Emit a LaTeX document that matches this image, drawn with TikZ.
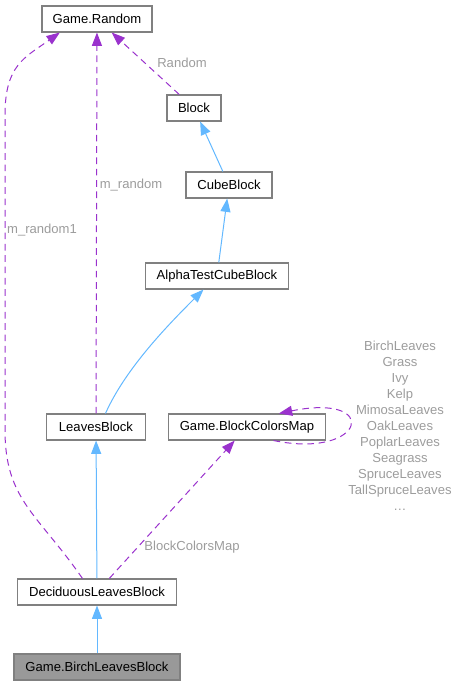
\documentclass[tikz,border=0pt]{standalone}
\usepackage{fontspec}
\setmainfont{Liberation Sans}
\usetikzlibrary{arrows.meta}
\definecolor{edgeblue}{HTML}{63B8FF}
\definecolor{edgepurple}{HTML}{9A32CD}
\definecolor{boxgray}{HTML}{808080}
\definecolor{labelgray}{HTML}{9C9C9C}
\tikzset{
    x=0.75pt,
    y=-0.75pt,
    font=\fontsize{9.8}{12}\selectfont,
    class/.style = {
        draw=boxgray,
        fill=white,
        shape=rectangle,
        minimum height=19.5pt,
        inner xsep=2pt,
        line width=0.8pt
    },
    current/.style = {
        class,
        fill=black!40
    },
    inherit/.style = {
        draw=edgeblue,
        line width=0.75pt,
        -{Triangle[length=10pt,width=7.5pt]}
    },
    usage/.style = {
        draw=edgepurple,
        line width=0.75pt,
        dash pattern=on 5pt off 3.5pt,
        -{Triangle[length=10pt,width=7.5pt]}
    },
    edgelabel/.style = {
        text=labelgray,
        inner sep=0pt
    },
}
\begin{document}
\begin{tikzpicture}
                \useasboundingbox (0,0) rectangle (459,687);

                \node[class, minimum width=82.5pt] (random) at (97,19) {Game.Random};
                \node[class, minimum width=40.5pt] (block) at (194,108) {Block};
                \node[class, minimum width=64.5pt] (cube) at (229,185) {CubeBlock};
                \node[class, minimum width=107.25pt] (alpha) at (217,276) {AlphaTestCubeBlock};
                \node[class, minimum width=74.25pt] (leaves) at (96,427) {LeavesBlock};
                \node[class, minimum width=117.75pt] (colors) at (247,427) {Game.BlockColorsMap};
                \node[class, minimum width=119.25pt] (decid) at (97,592) {DeciduousLeavesBlock};
                \node[current, minimum width=124.5pt] (birch) at (97,667) {Game.BirchLeavesBlock};

                % inheritance
                \path[inherit] (cube) -- (block);
                \path[inherit] (alpha) -- (cube);
                \path[inherit] (leaves.55) .. controls +(20,-45) and +(-35,35) .. (alpha.-135);
                \path[inherit] (decid) -- (leaves);
                \path[inherit] (birch) -- (decid);

                % usage
                \path[usage] (block) -- (random);
                \path[usage] (leaves) -- (random);
                \path[usage] (decid.137) .. controls +(-45,-65) and +(0,70) .. (5,430)
                    -- (5,115) .. controls +(0,-50) and +(-35,25) .. (random.-160);
                \path[usage] (decid) -- (colors);
                \path[usage] (colors.-27) .. controls +(92,19) and +(103,-21) .. (colors.23);

                \node[edgelabel] (lrandom) at (182,63) {Random};
                \node[edgelabel] (lmrandom) at (131,185) {m\_random};
                \node[edgelabel] (lmrandom1) at (42,230) {m\_random1};
                \node[edgelabel] (lcolors) at (192,547) {BlockColorsMap};
                \node[edgelabel, align=center] (lleaves) at (400,426) {BirchLeaves\\Grass\\Ivy\\Kelp\\MimosaLeaves\\OakLeaves\\PoplarLeaves\\Seagrass\\SpruceLeaves\\TallSpruceLeaves\\\dots};
            \end{tikzpicture}
\end{document}
